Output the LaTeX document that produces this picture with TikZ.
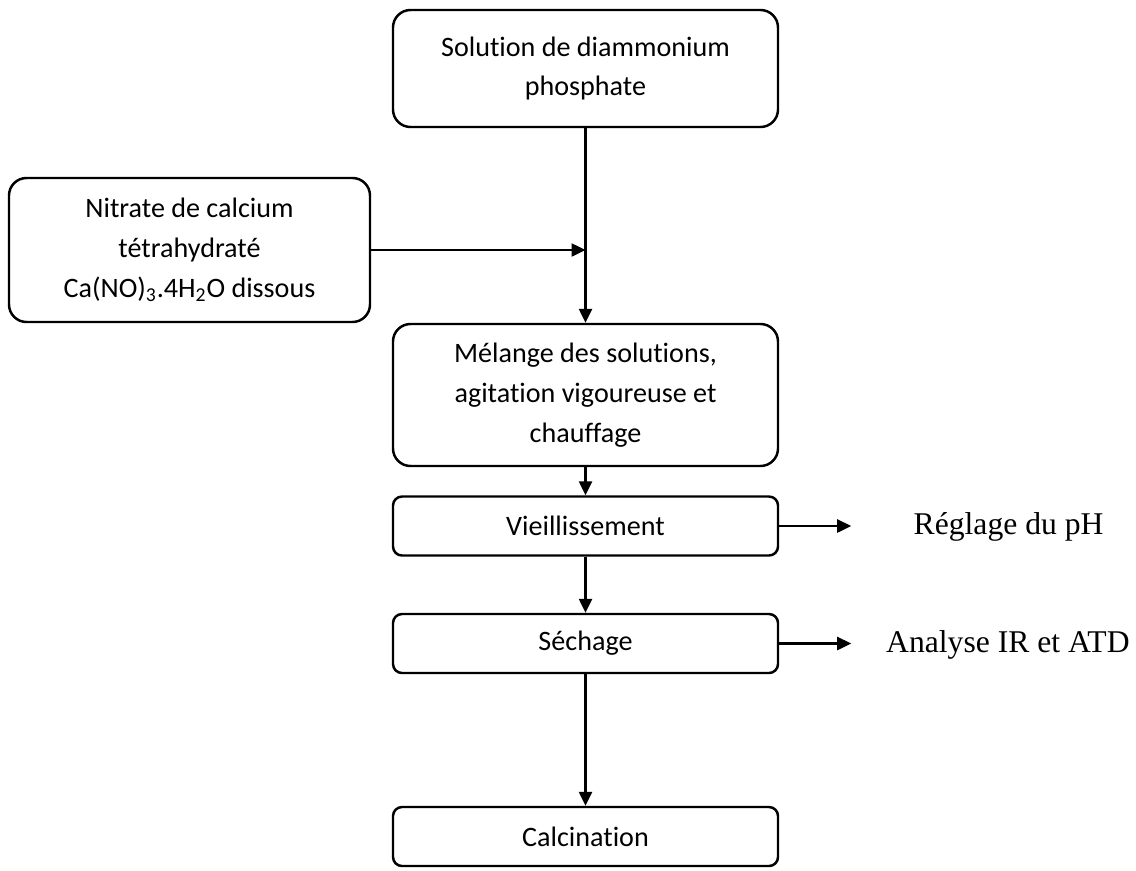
\documentclass[tikz,border=0pt]{standalone}
\usepackage{fontspec}
\setmainfont{Carlito}[Ligatures=NoCommon]
\newfontfamily\timesfont{Liberation Serif}
\usetikzlibrary{arrows.meta,positioning,calc}

\begin{document}
\begin{tikzpicture}[
    stage/.style={draw,rounded corners=0.35cm,line width=1.4pt,align=center,inner sep=0pt,minimum width=7.7cm,font=\fontsize{16}{22.7}\selectfont},
    small/.style={stage,rounded corners=0.18cm,minimum height=1.18cm},
    note/.style={anchor=west,font=\timesfont\fontsize{18}{22}\selectfont},
    flow/.style={-{Triangle[length=0.28cm,width=0.26cm]},line width=1.4pt}
  ]
    \useasboundingbox (0,0) rectangle (22.72,-17.4);

    % Starting solutions
    \node[stage,minimum height=2.34cm] (sol) at (11.71,-1.37) {Solution de diammonium\\phosphate};
    \node[stage,minimum width=7.22cm,minimum height=2.88cm] (nit) at (3.79,-5.0) {Nitrate de calcium\\tétrahydraté\\Ca(NO)\textsubscript{3}.4H\textsubscript{2}O dissous};

    % Process steps
    \node[stage,minimum height=2.84cm] (mel) at (11.71,-7.9) {Mélange des solutions,\\agitation vigoureuse et\\chauffage};
    \node[small] (vie) at (11.71,-10.52) {Vieillissement};
    \node[small] (sec) at (11.71,-12.87) {Séchage};
    \node[small] (cal) at (11.71,-16.73) {Calcination};

    % Side notes
    \coordinate (vtip) at ($(vie.east)+(1.44,0)$);
    \coordinate (stip) at ($(sec.east)+(1.44,0)$);
    \node[note] (ph) at (18.15,-10.54) {Réglage du pH};
    \node[note] (ir) at (17.6,-12.9) {Analyse IR et ATD};

    % Connections
    \coordinate (join) at (sol.south |- nit.east);
    \draw[flow] (sol) -- (mel);
    \draw[flow] (nit) -- (join);
    \draw[flow] (mel) -- (vie);
    \draw[flow] (vie) -- (sec);
    \draw[flow] (sec) -- (cal);
    \draw[flow] (vie.east) -- (vtip);
    \draw[flow] (sec.east) -- (stip);
  \end{tikzpicture}
\end{document}
